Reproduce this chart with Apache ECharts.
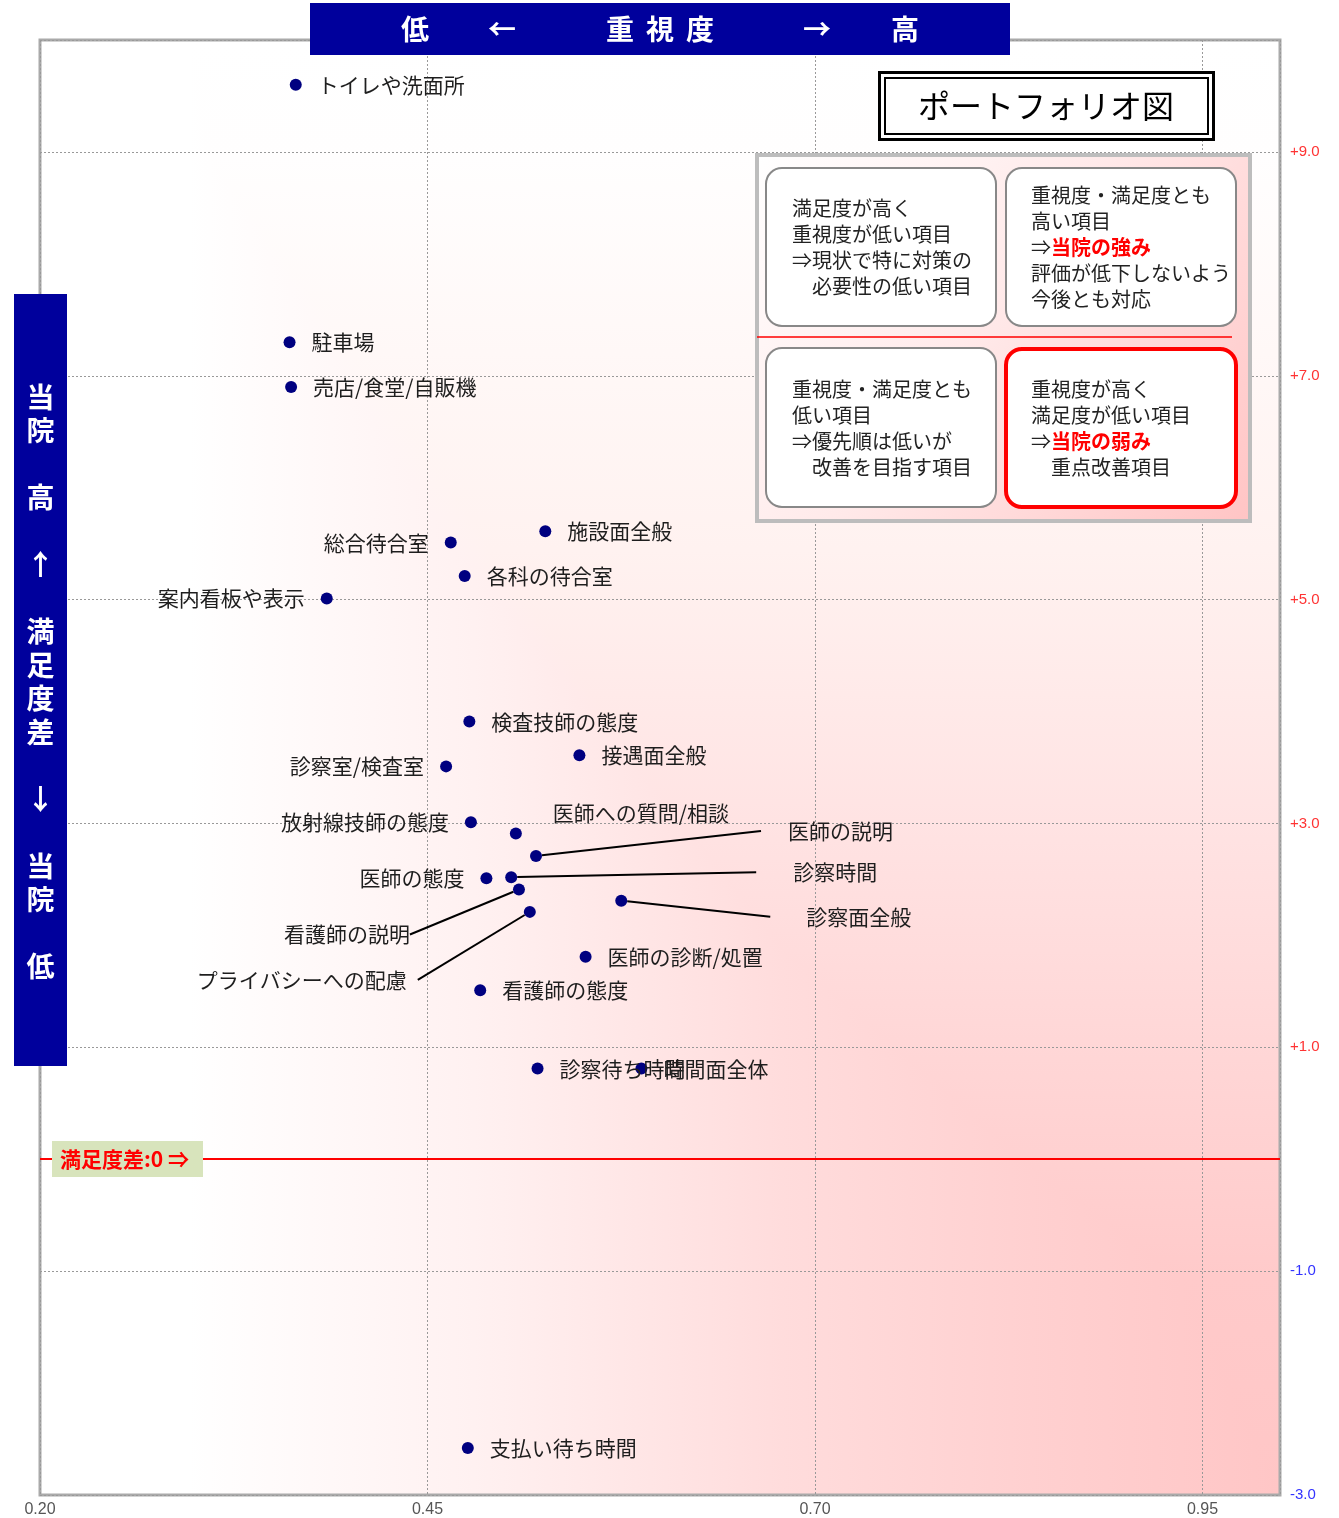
<!DOCTYPE html>
<html><head><meta charset="utf-8">
<script src="https://cdn.jsdelivr.net/npm/echarts@6/dist/echarts.min.js"></script>
<style>html,body{margin:0;padding:0;background:#fff}#c{width:1339px;height:1518px}</style>
</head><body><div id="c"></div>
<script>
// ---- data ----
const names = ['トイレや洗面所','駐車場','売店/食堂/自販機','総合待合室','施設面全般','各科の待合室','案内看板や表示',
  '検査技師の態度','接遇面全般','診察室/検査室','放射線技師の態度','医師への質問/相談','医師の説明','医師の態度',
  '診察時間','看護師の説明','診察面全般','プライバシーへの配慮','医師の診断/処置','看護師の態度','診察待ち時間',
  '時間面全体','支払い待ち時間'];
const importance = [0.365,0.361,0.362,0.465,0.526,0.474,0.385,0.477,0.548,0.462,0.478,0.507,0.520,0.488,
  0.504,0.509,0.575,0.516,0.552,0.484,0.521,0.588,0.476];
const satisfactionGap = [9.60,7.30,6.90,5.51,5.61,5.21,5.01,3.91,3.61,3.51,3.01,2.91,2.71,2.51,
  2.52,2.41,2.31,2.21,1.81,1.51,0.81,0.81,-2.58];
const xRange = {min:0.20, max:1.00, interval:0.25};
const yRange = {min:-3, max:10, interval:2};
const zeroLineValue = 0;

// ---- label styling ----
const leftLabels = new Set(['総合待合室','案内看板や表示','診察室/検査室','放射線技師の態度','医師の態度','看護師の説明','プライバシーへの配慮']);
const labelShift = {'医師への質問/相談':[15,-21],'医師の説明':[203,-25],'診察時間':[223,-5],'診察面全般':[127,16],'看護師の説明':[-87,45],'プライバシーへの配慮':[-90,68]};
const labelPad = {'医師の説明':[0,0,0,27],'診察時間':[0,0,0,37],'診察面全般':[0,0,0,36],'プライバシーへの配慮':[0,11,0,0]};
const leaders = new Set(['医師の説明','診察時間','診察面全般','看護師の説明','プライバシーへの配慮']);

const FONT = '"Noto Sans CJK JP", "Noto Sans", sans-serif';
const NAVY = '#00009c';

function makeBg(w,h){
  const c=document.createElement('canvas'); c.width=w; c.height=h;
  const g=c.getContext('2d');
  const gh=g.createLinearGradient(0,0,w,0);
  gh.addColorStop(0,'#ffffff'); gh.addColorStop(0.12,'#ffffff'); gh.addColorStop(0.35,'#fff1f1');
  gh.addColorStop(0.6,'#ffdcdc'); gh.addColorStop(0.8,'#ffd0d0'); gh.addColorStop(1,'#ffc6c6');
  g.fillStyle=gh; g.fillRect(0,0,w,h);
  g.globalCompositeOperation='lighten';
  const gv=g.createLinearGradient(0,0,0,h);
  gv.addColorStop(0,'#ffffff'); gv.addColorStop(0.08,'#fffefe'); gv.addColorStop(0.35,'#fff2f0');
  gv.addColorStop(0.55,'#ffe2e2'); gv.addColorStop(0.7,'#ffd6d6'); gv.addColorStop(0.85,'#ffcaca'); gv.addColorStop(1,'#ffc6c6');
  g.fillStyle=gv; g.fillRect(0,0,w,h);
  return c;
}

const chart = echarts.init(document.getElementById('c'));
const G = {left:40, top:40, right:59, bottom:23};
const gw = 1339-G.left-G.right, gh = 1518-G.top-G.bottom;

const seriesData = names.map((n,i)=>{
  const item = {name:n, value:[importance[i], satisfactionGap[i]], label:{position: leftLabels.has(n)?'left':'right'}};
  if (labelPad[n]) { item.label.padding = labelPad[n]; item.label.backgroundColor = 'rgba(255,255,255,0)'; }
  if (leaders.has(n)) item.labelLine = {show:true, length2:0, lineStyle:{color:'#000', width:2}};
  return item;
});

function txt(x,y,text,opt){
  return {type:'text', z:101, x:x, y:y, silent:true, style:Object.assign({text:text, fill:'#000', fontSize:20, fontFamily:FONT,
    align:'left', verticalAlign:'middle', textAlign:'left', textVerticalAlign:'middle'}, opt||{})};
}
function box(x,y,w,h,opt){
  return {type:'rect', z:100, silent:true, shape:Object.assign({x:x,y:y,width:w,height:h}, opt.shape||{}), style:opt.style};
}
const rich = {r:{fill:'#ff0000', fontWeight:'bold', fontSize:20, fontFamily:FONT, lineHeight:26}};
function para(x,y,text){
  return {type:'text', z:102, x:x, y:y, silent:true, style:{text:text, fill:'#222', fontSize:20, fontFamily:FONT, lineHeight:26,
    align:'left', verticalAlign:'top', textAlign:'left', textVerticalAlign:'top', rich:rich}};
}

const option = {
  animation:false,
  grid:{left:G.left, top:G.top, right:G.right, bottom:G.bottom, show:true, borderColor:'#aaaaaa', borderWidth:3, backgroundColor:'transparent'},
  xAxis:{type:'value', min:xRange.min, max:xRange.max, interval:xRange.interval,
    axisLine:{show:false}, axisTick:{show:false},
    splitLine:{show:true, lineStyle:{color:'#999', width:1, type:[2,2]}},
    axisLabel:{showMaxLabel:false, formatter:v=>v.toFixed(2), color:'#555', fontSize:16, margin:7, fontFamily:'"Liberation Sans", Arial'}},
  yAxis:{type:'value', position:'right', min:yRange.min, max:yRange.max, interval:yRange.interval,
    axisLine:{show:false}, axisTick:{show:false},
    splitLine:{show:true, lineStyle:{color:'#999', width:1, type:[2,2]}},
    axisLabel:{showMaxLabel:false, margin:10, fontSize:15, fontFamily:'"Liberation Sans", Arial',
      formatter:v=> v===yRange.max ? '' : (v>0?'+':'')+v.toFixed(1),
      color:v=> (v>0 ? '#ff3333' : '#3333ff')}},
  series:[{
    type:'scatter', symbol:'circle', symbolSize:12, itemStyle:{color:'#000080', opacity:1},
    label:{show:true, formatter:'{b}', distance:16, fontSize:21, color:'#1e1e1e', fontFamily:FONT},
    labelLine:{show:false},
    labelLayout:function(p){ const s = labelShift[names[p.dataIndex]]; return s ? {dx:s[0], dy:s[1]} : {}; },
    data:seriesData,
    markLine:{silent:true, symbol:['none','none'], label:{show:false},
      lineStyle:{color:'#ff0000', width:2, type:'solid'}, data:[{yAxis:zeroLineValue}]}
  }],
  graphic:[
    {type:'image', z:-10, silent:true, style:{image:makeBg(gw,gh), x:G.left, y:G.top, width:gw, height:gh}},
    // top importance banner
    box(310,3,700,52,{style:{fill:NAVY}}),
    txt(415,29,'低',{fill:'#fff',fontSize:28,fontWeight:'bold',align:'center',textAlign:'center'}),
    txt(502,29,'←',{fill:'#fff',fontSize:28,fontWeight:'bold',align:'center',textAlign:'center'}),
    txt(620,29,'重',{fill:'#fff',fontSize:28,fontWeight:'bold',align:'center',textAlign:'center'}),
    txt(660,29,'視',{fill:'#fff',fontSize:28,fontWeight:'bold',align:'center',textAlign:'center'}),
    txt(700,29,'度',{fill:'#fff',fontSize:28,fontWeight:'bold',align:'center',textAlign:'center'}),
    txt(817,29,'→',{fill:'#fff',fontSize:28,fontWeight:'bold',align:'center',textAlign:'center'}),
    txt(905,29,'高',{fill:'#fff',fontSize:28,fontWeight:'bold',align:'center',textAlign:'center'}),
    // left satisfaction banner
    box(14,294,53,772,{style:{fill:NAVY}}),
    txt(40.5,682,'当\n院\n\n高\n\n↑\n\n満\n足\n度\n差\n\n↓\n\n当\n院\n\n低',{fill:'#fff',fontSize:28,fontWeight:'bold',lineHeight:33.5,align:'center',textAlign:'center'}),
    // portfolio title
    box(879.5,72.5,334,67,{style:{fill:'#fff', stroke:'#000', lineWidth:3}}),
    box(885,78,323,56,{style:{fill:'none', stroke:'#000', lineWidth:2}}),
    txt(1046,106,'ポートフォリオ図',{fontSize:32,align:'center',textAlign:'center'}),
    // quadrant legend
    box(757,155,493,366,{style:{stroke:'#bdbdbd', lineWidth:4,
      fill:new echarts.graphic.LinearGradient(0,0,1,1,[{offset:0,color:'#ffffff'},{offset:0.45,color:'#ffeaea'},{offset:1,color:'#ffc4c4'}])}}),
    box(766,168,230,158,{shape:{r:16}, style:{fill:'#fff', stroke:'#888', lineWidth:2}}),
    box(1006,168,230,158,{shape:{r:16}, style:{fill:'#fff', stroke:'#888', lineWidth:2}}),
    box(766,348,230,159,{shape:{r:16}, style:{fill:'#fff', stroke:'#888', lineWidth:2}}),
    box(1006,349,230,158,{shape:{r:16}, style:{fill:'#fff', stroke:'#ff0000', lineWidth:4}}),
    {type:'line', z:100, silent:true, shape:{x1:757,y1:337,x2:1232,y2:337}, style:{stroke:'#ff0000', lineWidth:1.5}},
    para(792,195,'満足度が高く\n重視度が低い項目\n⇒現状で特に対策の\n　必要性の低い項目'),
    para(1031,182,'重視度・満足度とも\n高い項目\n⇒{r|当院の強み}\n評価が低下しないよう\n今後とも対応'),
    para(792,376,'重視度・満足度とも\n低い項目\n⇒優先順は低いが\n　改善を目指す項目'),
    para(1031,376,'重視度が高く\n満足度が低い項目\n⇒{r|当院の弱み}\n　重点改善項目'),
    // zero line label
    box(52,1141,151,36,{style:{fill:'#d8e4bc'}}),
    txt(60,1159,'満足度差:0 ⇒',{fill:'#ff0000',fontSize:21,fontWeight:'bold'})
  ]
};
chart.setOption(option);
</script>
</body></html>
